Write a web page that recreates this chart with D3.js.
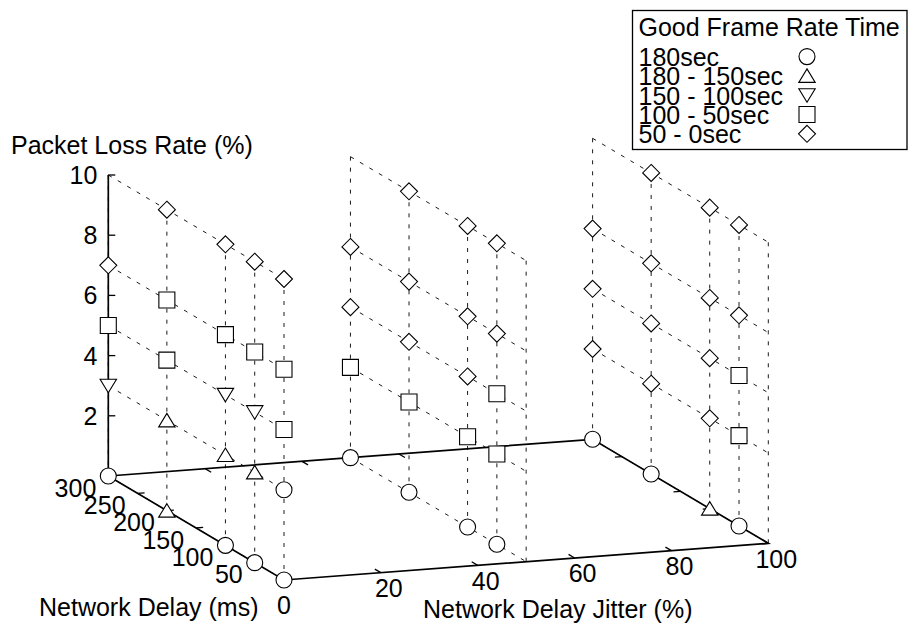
<!DOCTYPE html>
<html>
<head>
<meta charset="utf-8">
<script src="https://cdn.jsdelivr.net/npm/d3@7"></script>
<style>
  body { margin: 0; background: #fff; }
  svg { display: block; }
  text { font-family: "Liberation Sans", Arial, Helvetica, sans-serif; fill: #000; }
</style>
</head>
<body>
<svg id="chart" width="909" height="632"></svg>
<script>
// ---- data -------------------------------------------------------------
const jitterValues = [0, 50, 100];          // Network Delay Jitter (%)
const delayValues = [300, 200, 100, 50, 0];  // Network Delay (ms)
const lossValues = [0, 3, 5, 7, 10];         // Packet Loss Rate (%)

const classLabels = ["180sec", "180 - 150sec", "150 - 100sec", "100 - 50sec", "50 - 0sec"];
const classSymbols = ["circle", "triangleUp", "triangleDown", "square", "diamond"];

// Good-frame-rate class per delay (rows) and loss (columns); null = no marker
const classesJitter0 = [
  [0, 2, 3, 4, null],
  [1, 1, 3, 3, 4],
  [0, 1, 2, 3, 4],
  [0, 1, 2, 3, 4],
  [0, 0, 3, 3, 4]
];
const classesJitter50 = [
  [0, 3, 4, 4, null],
  [0, 3, 4, 4, 4],
  [0, 3, 4, 4, 4],
  [0, 3, 3, 4, 4],
  [null, null, null, null, null]
];
const classesJitter100 = [
  [0, 4, 4, 4, null],
  [0, 4, 4, 4, 4],
  [1, 4, 4, 4, 4],
  [0, 3, 3, 4, 4],
  [null, null, null, null, null]
];
const classGrids = [classesJitter0, classesJitter50, classesJitter100];

const jitterTicks = [0, 20, 40, 60, 80, 100];
const jitterTickLabels = ["", "20", "40", "60", "80", "100"];
const delayTicks = [0, 50, 100, 150, 200, 250, 300];
const delayTickLabels = ["0", "50", "100", "150", "200", "250", "300"];
const lossTicks = [2, 4, 6, 8, 10];
const lossTickLabels = ["2", "4", "6", "8", "10"];

const titleZ = "Packet Loss Rate (%)";
const titleY = "Network Delay (ms)";
const titleX = "Network Delay Jitter (%)";
const legendTitle = "Good Frame Rate Time";

// ---- projection -------------------------------------------------------
const svg = d3.select("#chart");
const FS = 25;

const jScale = d3.scaleLinear().domain([0, 100]).range([0, 1]);
const dScale = d3.scaleLinear().domain([0, 300]).range([0, 1]);
const lScale = d3.scaleLinear().domain([0, 10]).range([0, 1]);

// screen position of the (0,0,0) corner and the full-length axis vectors
const origin = [284, 580];
const vJ = [484.3, -36.7];
const vD = [-175.7, -104];
const vL = [0, -301];

function project(j, d, l) {
  const a = jScale(j), b = dScale(d), c = lScale(l);
  return [origin[0] + a * vJ[0] + b * vD[0] + c * vL[0],
          origin[1] + a * vJ[1] + b * vD[1] + c * vL[1]];
}
function unit(v) { const n = Math.hypot(v[0], v[1]); return [v[0] / n, v[1] / n]; }

const line = d3.line();

// ---- base frame --------------------------------------------------------
const jMin = 0, jMax = 100, dMin = 0, dMax = 300;
const base = svg.append("g").attr("fill", "none").attr("stroke", "#000").attr("stroke-width", 1.7);
base.append("path").attr("d", line([
  project(jMin, dMax, 0), project(jMin, dMin, 0), project(jMax, dMin, 0),
  project(jMax, dMax, 0), project(jMin, dMax, 0)
]));
// vertical (loss) axis
base.append("path").attr("d", line([project(jMin, dMax, 0), project(jMin, dMax, 10)]));

const tickLen = 7;
const uJ = unit(vJ), uD = unit(vD);
const ticks = svg.append("g").attr("stroke", "#000").attr("stroke-width", 1.3);
jitterTicks.forEach(t => {
  const p = project(t, dMin, 0), q = project(t, dMax, 0);
  ticks.append("line").attr("x1", p[0]).attr("y1", p[1])
    .attr("x2", p[0] + uD[0] * tickLen).attr("y2", p[1] + uD[1] * tickLen);
  ticks.append("line").attr("x1", q[0]).attr("y1", q[1])
    .attr("x2", q[0] - uD[0] * tickLen).attr("y2", q[1] - uD[1] * tickLen);
});
delayTicks.forEach(t => {
  const p = project(jMin, t, 0), q = project(jMax, t, 0);
  ticks.append("line").attr("x1", p[0]).attr("y1", p[1])
    .attr("x2", p[0] + uJ[0] * tickLen).attr("y2", p[1] + uJ[1] * tickLen);
  ticks.append("line").attr("x1", q[0]).attr("y1", q[1])
    .attr("x2", q[0] - uJ[0] * tickLen).attr("y2", q[1] - uJ[1] * tickLen);
});
lossTicks.forEach(t => {
  const p = project(jMin, dMax, t);
  ticks.append("line").attr("x1", p[0]).attr("y1", p[1]).attr("x2", p[0] + tickLen).attr("y2", p[1]);
});

// ---- mesh (dashed) -------------------------------------------------------
const mesh = svg.append("g").attr("fill", "none").attr("stroke", "#000")
  .attr("stroke-width", 0.9).attr("stroke-dasharray", "4,7");
jitterValues.forEach(j => {
  delayValues.forEach(d => {
    mesh.append("path").attr("d", line(lossValues.map(l => project(j, d, l))));
  });
  lossValues.forEach(l => {
    mesh.append("path").attr("d", line(delayValues.map(d => project(j, d, l))));
  });
});

// ---- markers -------------------------------------------------------------
function symbolPath(type) {
  const p = d3.path();
  if (type === "circle") { p.arc(0, 0, 8, 0, 2 * Math.PI); }
  else if (type === "square") { p.rect(-8, -8, 16, 16); }
  else if (type === "diamond") {
    p.moveTo(0, -8.5); p.lineTo(8.5, 0); p.lineTo(0, 8.5); p.lineTo(-8.5, 0); p.closePath();
  } else if (type === "triangleUp") {
    p.moveTo(0, -7); p.lineTo(8.2, 6.5); p.lineTo(-8.2, 6.5); p.closePath();
  } else if (type === "triangleDown") {
    p.moveTo(0, 7); p.lineTo(8.2, -6.5); p.lineTo(-8.2, -6.5); p.closePath();
  }
  return p.toString();
}

const points = [];
jitterValues.forEach((j, gi) => {
  delayValues.forEach((d, di) => {
    lossValues.forEach((l, li) => {
      const c = classGrids[gi][di][li];
      if (c !== null) points.push({ j, d, l, c });
    });
  });
});

svg.append("g").selectAll("path").data(points).join("path")
  .attr("transform", p => { const s = project(p.j, p.d, p.l); return `translate(${s[0]},${s[1]})`; })
  .attr("d", p => symbolPath(classSymbols[p.c]))
  .attr("fill", "#fff").attr("stroke", "#000").attr("stroke-width", 1.1);

// ---- tick labels -----------------------------------------------------------
const labels = svg.append("g").attr("font-size", FS);
lossTicks.forEach((t, i) => {
  const p = project(jMin, dMax, t);
  labels.append("text").attr("x", p[0] - 11).attr("y", p[1] + 9)
    .attr("text-anchor", "end").text(lossTickLabels[i]);
});
delayTicks.forEach((t, i) => {
  const p = project(jMin, t, 0);
  if (t === 0) {
    labels.append("text").attr("x", p[0]).attr("y", p[1] + 34)
      .attr("text-anchor", "middle").text(delayTickLabels[i]);
  } else {
    labels.append("text").attr("x", p[0] - 12).attr("y", p[1] + 20.5)
      .attr("text-anchor", "end").text(delayTickLabels[i]);
  }
});
jitterTicks.forEach((t, i) => {
  if (!jitterTickLabels[i]) return;
  const p = project(t, dMin, 0);
  labels.append("text").attr("x", p[0] + 8).attr("y", p[1] + 24.5)
    .attr("text-anchor", "middle").text(jitterTickLabels[i]);
});

// ---- axis titles -------------------------------------------------------------
labels.append("text").attr("x", 11).attr("y", 154).text(titleZ);
labels.append("text").attr("x", 39).attr("y", 615.5).text(titleY);
labels.append("text").attr("x", 423).attr("y", 618).text(titleX);

// ---- legend -------------------------------------------------------------------
const legend = svg.append("g");
legend.append("rect").attr("x", 632.5).attr("y", 10.5).attr("width", 274.5).attr("height", 139)
  .attr("fill", "#fff").attr("stroke", "#000").attr("stroke-width", 1.3);
legend.append("text").attr("x", 638.5).attr("y", 36).attr("font-size", FS).text(legendTitle);
const legendRows = legend.selectAll("g.row").data(classLabels).join("g").attr("class", "row")
  .attr("transform", (d, i) => `translate(0,${66.1 + i * 19.3})`);
legendRows.append("text").attr("x", 638.5).attr("y", 0).attr("font-size", FS).text(d => d);
legendRows.append("path").attr("transform", "translate(807,-9.5)")
  .attr("d", (d, i) => symbolPath(classSymbols[i]))
  .attr("fill", "#fff").attr("stroke", "#000").attr("stroke-width", 1.1);
</script>
</body>
</html>
